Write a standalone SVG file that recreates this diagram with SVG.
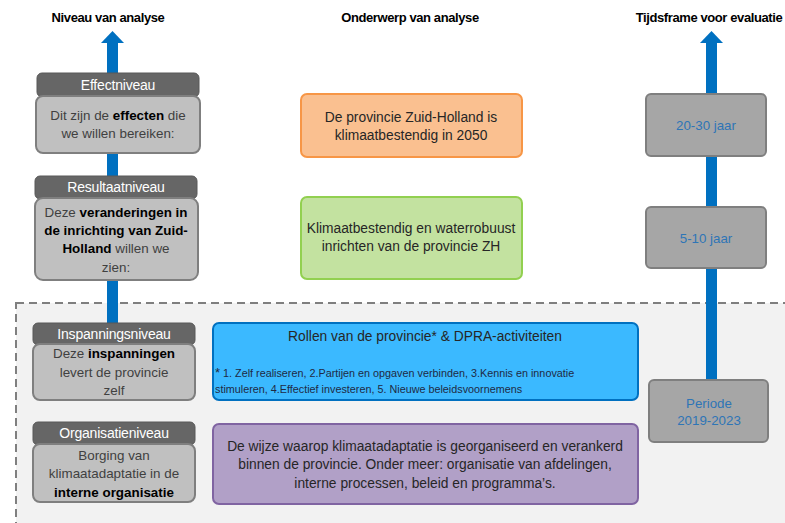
<svg xmlns="http://www.w3.org/2000/svg" width="785" height="523" viewBox="0 0 785 523">
<style>
.t{font-family:"Liberation Sans",Arial,sans-serif}
.hd{font-size:13px;font-weight:bold;fill:#000;text-anchor:middle;letter-spacing:-0.4px}
.lh{fill:#666666;stroke:#595959;stroke-width:1}
.lb{fill:#c0c0c0;stroke:#7f7f7f;stroke-width:2}
.lht{font-size:14px;fill:#fff;text-anchor:middle;letter-spacing:-0.2px}
.lbt{font-size:13.4px;fill:#404040;text-anchor:middle}
.b{font-weight:bold;fill:#000}
.ct{font-size:13.8px;fill:#262626;text-anchor:middle}
.rb{fill:#a6a6a6;stroke:#7f7f7f;stroke-width:2}
.rt{font-size:13.3px;fill:#2e75b6;text-anchor:middle}
.shaft{fill:#0070c0}
</style>
<rect x="16" y="303" width="800" height="230" fill="#f2f2f2" stroke="#7f7f7f" stroke-width="2" stroke-dasharray="8,5"/>
<g id="headers" class="t">
<text class="hd" x="108" y="22">Niveau van analyse</text>
<text class="hd" x="410" y="22">Onderwerp van analyse</text>
<text class="hd" x="709" y="22">Tijdsframe voor evaluatie</text>
</g>
<g id="connectors">
<rect class="shaft" x="107" y="42" width="11" height="282"/>
<polygon class="shaft" points="101,43 112.5,31 124,43"/>
<rect class="shaft" x="706" y="42" width="11" height="340"/>
<polygon class="shaft" points="700,43 711.5,31 723,43"/>
</g>
<g id="effectniveau" class="t">
<rect class="lh" x="37" y="73" width="162" height="24" rx="5"/>
<text class="lht" x="118" y="90">Effectniveau</text>
<rect class="lb" x="36" y="96" width="164" height="57" rx="7"/>
<text class="lbt" x="118" y="120">Dit zijn de <tspan class="b">effecten</tspan> die</text>
<text class="lbt" x="118" y="138">we willen bereiken:</text>
</g>
<g id="resultaatniveau" class="t">
<rect class="lh" x="35" y="176" width="162" height="23" rx="5"/>
<text class="lht" x="116" y="192">Resultaatniveau</text>
<rect class="lb" x="35" y="198" width="163" height="82" rx="8"/>
<text class="lbt" x="116" y="217">Deze <tspan class="b">veranderingen in</tspan></text>
<text class="lbt b" x="116" y="235">de inrichting van Zuid-</text>
<text class="lbt" x="116" y="253"><tspan class="b">Holland</tspan> willen we</text>
<text class="lbt" x="116" y="272">zien:</text>
</g>
<g id="inspanningsniveau" class="t">
<rect class="lh" x="33" y="323" width="162" height="22" rx="5"/>
<text class="lht" x="114" y="339">Inspanningsniveau</text>
<rect class="lb" x="33" y="344" width="162" height="56" rx="7"/>
<text class="lbt" x="114" y="358">Deze <tspan class="b">inspanningen</tspan></text>
<text class="lbt" x="114" y="377">levert de provincie</text>
<text class="lbt" x="114" y="395">zelf</text>
</g>
<g id="organisatieniveau" class="t">
<rect class="lh" x="33" y="422" width="162" height="23" rx="5"/>
<text class="lht" x="114" y="438">Organisatieniveau</text>
<rect class="lb" x="33" y="444" width="162" height="58" rx="7"/>
<text class="lbt" x="114" y="460">Borging van</text>
<text class="lbt" x="114" y="478">klimaatadaptatie in de</text>
<text class="lbt b" x="114" y="497">interne organisatie</text>
</g>
<g id="effect-onderwerp" class="t">
<rect x="301" y="94" width="221" height="63" rx="6" fill="#fac090" stroke="#f79646" stroke-width="2"/>
<text class="ct" x="411" y="122">De provincie Zuid-Holland is</text>
<text class="ct" x="411" y="140">klimaatbestendig in 2050</text>
</g>
<g id="resultaat-onderwerp" class="t">
<rect x="301" y="197" width="221" height="82" rx="6" fill="#c3e2a0" stroke="#92d050" stroke-width="2"/>
<text class="ct" x="411" y="233">Klimaatbestendig en waterrobuust</text>
<text class="ct" x="411" y="251">inrichten van de provincie ZH</text>
</g>
<g id="inspanning-onderwerp" class="t">
<rect x="213" y="323" width="425" height="77" rx="6" fill="#3bb9ff" stroke="#0070c0" stroke-width="2"/>
<text class="ct" x="425" y="341">Rollen van de provincie* &amp; DPRA-activiteiten</text>
<text x="215" y="377" font-size="10.8px" fill="#1f2a44"><tspan font-size="13px">*</tspan> 1. Zelf realiseren, 2.Partijen en opgaven verbinden, 3.Kennis en innovatie</text>
<text x="215" y="393" font-size="10.8px" fill="#1f2a44">stimuleren, 4.Effectief investeren, 5. Nieuwe beleidsvoornemens</text>
</g>
<g id="organisatie-onderwerp" class="t">
<rect x="213" y="424" width="425" height="80" rx="6" fill="#b1a0c7" stroke="#8064a2" stroke-width="2"/>
<text class="ct" x="425" y="451">De wijze waarop klimaatadaptatie is georganiseerd en verankerd</text>
<text class="ct" x="425" y="469">binnen de provincie. Onder meer: organisatie van afdelingen,</text>
<text class="ct" x="425" y="488">interne processen, beleid en programma’s.</text>
</g>
<g id="tijd-20-30" class="t">
<rect class="rb" x="646" y="94" width="120" height="62" rx="5"/>
<text class="rt" x="706" y="130">20-30 jaar</text>
</g>
<g id="tijd-5-10" class="t">
<rect class="rb" x="646" y="207" width="120" height="61" rx="5"/>
<text class="rt" x="706" y="243">5-10 jaar</text>
</g>
<g id="tijd-periode" class="t">
<rect class="rb" x="649" y="380" width="119" height="62" rx="5"/>
<text class="rt" x="709" y="408">Periode</text>
<text class="rt" x="709" y="425">2019-2023</text>
</g>
</svg>
